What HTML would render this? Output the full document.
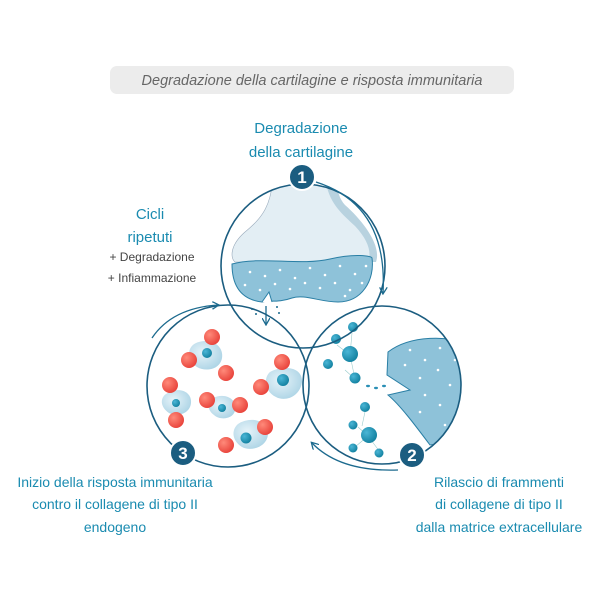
<!DOCTYPE html>
<html><head><meta charset="utf-8"><style>
html,body{margin:0;padding:0;background:#fff;width:600px;height:600px;overflow:hidden}
svg{display:block}
text{font-family:"Liberation Sans",sans-serif}
</style></head><body>
<svg width="600" height="600" viewBox="0 0 600 600" xmlns="http://www.w3.org/2000/svg">
<defs>
<marker id="ar" markerWidth="8" markerHeight="8" refX="6" refY="4" orient="auto" markerUnits="userSpaceOnUse"><path d="M0,0 L7,4 L0,8" fill="none" stroke="#1b6a8e" stroke-width="1.3"/></marker>
<radialGradient id="cell" cx="0.4" cy="0.4" r="0.7"><stop offset="0" stop-color="#e6f3f9"/><stop offset="1" stop-color="#a9d2e4"/></radialGradient>
<radialGradient id="red" cx="0.35" cy="0.35" r="0.7"><stop offset="0" stop-color="#ff8a7a"/><stop offset="1" stop-color="#e8423a"/></radialGradient>
<radialGradient id="blu" cx="0.35" cy="0.35" r="0.7"><stop offset="0" stop-color="#4bb6d6"/><stop offset="1" stop-color="#11809f"/></radialGradient>
</defs>
<rect x="110" y="66" width="404" height="28" rx="7" fill="#ececec"/>
<text x="312" y="85" font-size="14.5" font-style="italic" fill="#666" text-anchor="middle">Degradazione della cartilagine e risposta immunitaria</text>

<g fill="#1a8bb0" font-size="15" text-anchor="middle">
<text x="301" y="133">Degradazione</text>
<text x="301" y="157">della cartilagine</text>
<text x="150" y="219">Cicli</text>
<text x="150" y="242">ripetuti</text>
</g>
<g fill="#444" font-size="12" text-anchor="middle">
<text x="152" y="261">+ Degradazione</text>
<text x="152" y="282">+  Infiammazione</text>
</g>
<g fill="#1a8bb0" font-size="14" text-anchor="middle">
<text x="115" y="487">Inizio della risposta immunitaria</text>
<text x="115" y="509">contro il collagene di tipo II</text>
<text x="115" y="532">endogeno</text>
<text x="499" y="487">Rilascio di frammenti</text>
<text x="499" y="509">di collagene di tipo II</text>
<text x="499" y="532">dalla matrice extracellulare</text>
</g>

<!-- top circle content -->
<clipPath id="c1"><circle cx="303" cy="266" r="82"/></clipPath>
<g clip-path="url(#c1)">
<path d="M273,170 C273,205 262,218 245,232 C230,245 230,258 235,262 L372,262 C378,248 368,230 350,215 C338,202 333,190 333,170 Z" fill="#e3eef4" stroke="#9ab" stroke-width="0.6"/>
<path d="M325,170 C325,200 340,212 355,226 C368,240 372,252 368,262 L376,262 C382,245 362,220 345,205 C336,195 336,180 336,170Z" fill="#b8d2df"/>
<path d="M232,264 C260,256 300,266 330,259 C355,253 372,256 372,258 C375,280 362,302 338,302 C320,302 305,294 292,298 C278,303 270,300 262,302 C245,300 232,290 232,264Z" fill="#8ec2d9" stroke="#2a7fa5" stroke-width="1"/>
<g fill="#fff">
<circle cx="250" cy="272" r="1.3"/><circle cx="265" cy="276" r="1.3"/><circle cx="280" cy="270" r="1.3"/><circle cx="295" cy="278" r="1.3"/><circle cx="310" cy="268" r="1.3"/><circle cx="325" cy="275" r="1.3"/><circle cx="340" cy="266" r="1.3"/><circle cx="355" cy="274" r="1.3"/><circle cx="366" cy="266" r="1.3"/><circle cx="245" cy="285" r="1.3"/><circle cx="260" cy="290" r="1.3"/><circle cx="275" cy="284" r="1.3"/><circle cx="290" cy="289" r="1.3"/><circle cx="305" cy="283" r="1.3"/><circle cx="320" cy="288" r="1.3"/><circle cx="335" cy="283" r="1.3"/><circle cx="350" cy="290" r="1.3"/><circle cx="362" cy="283" r="1.3"/><circle cx="345" cy="296" r="1.3"/>
</g>
<path d="M262,302 L269,292 L272,302" fill="#fff" stroke="#2a7fa5"/>
<line x1="266" y1="306" x2="266" y2="324" stroke="#1b6a8e" stroke-width="1.3" marker-end="url(#ar)"/>
<g fill="#1b6a8e"><circle cx="252" cy="309" r="1"/><circle cx="256" cy="314" r="1"/><circle cx="277" cy="307" r="1"/><circle cx="279" cy="313" r="1"/></g>
</g>

<!-- right circle content -->
<clipPath id="c2"><circle cx="382" cy="385" r="79"/></clipPath>
<g clip-path="url(#c2)">
<path d="M388,352 C410,335 450,335 470,345 L470,440 L430,445 C415,425 400,405 388,395 L410,390 L387,375 Z" fill="#8ec2d9" stroke="#2a7fa5"/>
<g fill="#fff"><circle cx="410" cy="350" r="1.3"/><circle cx="425" cy="360" r="1.3"/><circle cx="440" cy="348" r="1.3"/><circle cx="405" cy="365" r="1.3"/><circle cx="420" cy="378" r="1.3"/><circle cx="438" cy="370" r="1.3"/><circle cx="450" cy="385" r="1.3"/><circle cx="425" cy="395" r="1.3"/><circle cx="440" cy="405" r="1.3"/><circle cx="420" cy="412" r="1.3"/><circle cx="445" cy="425" r="1.3"/><circle cx="455" cy="360" r="1.3"/></g>
<g stroke="#9cc" stroke-width="0.6"><line x1="352" y1="333" x2="350" y2="355"/><line x1="337" y1="345" x2="350" y2="355"/><line x1="350" y1="355" x2="355" y2="379"/><line x1="345" y1="370" x2="355" y2="379"/><line x1="366" y1="407" x2="362" y2="426"/><line x1="358" y1="427" x2="368" y2="436"/><line x1="368" y1="436" x2="380" y2="452"/><line x1="355" y1="447" x2="368" y2="436"/></g>
<g fill="url(#blu)"><circle cx="353" cy="327" r="5"/><circle cx="336" cy="339" r="5"/><circle cx="350" cy="354" r="8"/><circle cx="328" cy="364" r="5"/><circle cx="355" cy="378" r="5.5"/><circle cx="365" cy="407" r="5"/><circle cx="353" cy="425" r="4.5"/><circle cx="369" cy="435" r="8"/><circle cx="353" cy="448" r="4.5"/><circle cx="379" cy="453" r="4.5"/></g>
<g fill="#2a8fb5"><ellipse cx="368" cy="386" rx="2" ry="1.2"/><ellipse cx="376" cy="388" rx="2" ry="1.2"/><ellipse cx="384" cy="386" rx="2" ry="1.2"/></g>
</g>

<!-- left circle content -->
<g>
<path d="M196,343 C210,337 224,345 222,358 C220,370 205,372 197,367 C186,360 187,347 196,343Z" fill="url(#cell)"/>
<path d="M270,372 C285,364 303,368 302,382 C300,397 285,402 276,397 C265,392 263,378 270,372Z" fill="url(#cell)"/>
<path d="M166,394 C178,386 192,391 191,403 C190,414 177,417 169,413 C160,407 160,398 166,394Z" fill="url(#cell)"/>
<path d="M213,398 C225,392 238,399 235,411 C232,420 219,420 214,415 C207,410 207,402 213,398Z" fill="url(#cell)"/>
<path d="M238,424 C250,416 268,420 268,433 C268,447 251,452 242,447 C232,441 231,430 238,424Z" fill="url(#cell)"/>
<g fill="url(#blu)"><circle cx="207" cy="353" r="5"/><circle cx="283" cy="380" r="6"/><circle cx="176" cy="403" r="4"/><circle cx="222" cy="408" r="4"/><circle cx="246" cy="438" r="5.5"/></g>
<g fill="url(#red)"><circle cx="212" cy="337" r="8"/><circle cx="189" cy="360" r="8"/><circle cx="226" cy="373" r="8"/><circle cx="282" cy="362" r="8"/><circle cx="261" cy="387" r="8"/><circle cx="170" cy="385" r="8"/><circle cx="176" cy="420" r="8"/><circle cx="207" cy="400" r="8"/><circle cx="240" cy="405" r="8"/><circle cx="265" cy="427" r="8"/><circle cx="226" cy="445" r="8"/></g>
</g>

<!-- circles -->
<g fill="none" stroke="#1b5d80" stroke-width="1.6">
<circle cx="303" cy="266" r="82"/>
<circle cx="228" cy="386" r="81"/>
<circle cx="382" cy="385" r="79"/>
</g>
<!-- outer arrows -->
<g fill="none" stroke="#1b6a8e" stroke-width="1.3">
<path d="M316,182 Q388,205 383,293" marker-end="url(#ar)"/>
<path d="M398,470 Q340,472 312,443" marker-end="url(#ar)"/>
<path d="M152,338 Q172,308 218,305" marker-end="url(#ar)"/>
</g>
<!-- badges -->
<g fill="#1b5d80" stroke="#fff" stroke-width="2"><circle cx="302" cy="177" r="13"/><circle cx="183" cy="453" r="13"/><circle cx="412" cy="455" r="13"/></g>
<g fill="#fff" font-size="17" font-weight="bold" text-anchor="middle"><text x="302" y="183">1</text><text x="183" y="459">3</text><text x="412" y="461">2</text></g>
</svg>
</body></html>
